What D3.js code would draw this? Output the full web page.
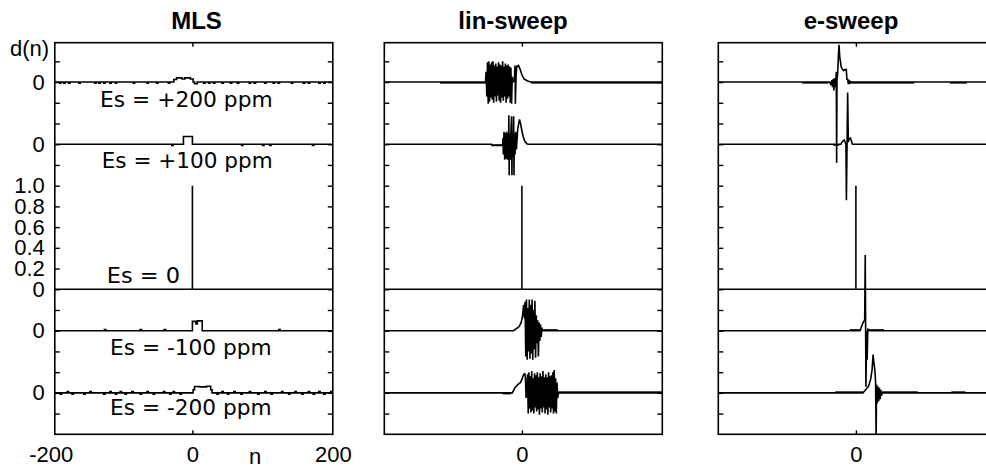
<!DOCTYPE html>
<html><head><meta charset="utf-8">
<script src="https://cdn.jsdelivr.net/npm/d3@7"></script>
<style>
html,body{margin:0;padding:0;background:#fff;}
svg{display:block;font-family:"Liberation Sans",Arial,Helvetica,sans-serif;}
</style></head><body>
<svg id="chart" width="986" height="468"></svg>
<script>
// ---------------- data ----------------
const panelTitles = ["MLS", "lin-sweep", "e-sweep"];
const traceLabels = ["Es = +200 ppm", "Es = +100 ppm", "Es = 0", "Es = -100 ppm", "Es = -200 ppm"];
const traceOffsets = [2.0, 1.4, 0, -0.4, -1.0];
const xTicksMLS = [-200, 0, 200];
const xTicksSweep = [0];
const yTickValues = [-1.2, -1.0, -0.8, -0.6, -0.4, -0.2, 0, 0.2, 0.4, 0.6, 0.8, 1.0, 1.2, 1.4, 1.6, 1.8, 2.0, 2.2];
const yLabelValues = [2.0, 1.4, 1.0, 0.8, 0.6, 0.4, 0.2, 0, -0.4, -1.0];
const yLabelTexts = ["0", "0", "1.0", "0.8", "0.6", "0.4", "0.2", "0", "0", "0"];
const yAxisLabel = "d(n)";
const xAxisLabel = "n";

// MLS traces  [n, d(n)]
const mls200 = [[-200,0],[-193,-0.012],[-191,0],[-187,-0.012],[-185,0],[-180,-0.012],[-178,0],[-165,-0.012],[-163,0],
  [-142,-0.012],[-140,0],[-136,-0.012],[-134,0],[-129,-0.012],[-127,0],[-120,-0.012],[-118,0],[-112,-0.012],[-110,0],
  [-86,-0.012],[-84,0],[-66,-0.012],[-64,0],[-52,-0.012],[-50,0],[-35,-0.012],[-33,0],
  [-27,0.025],[-23,0.04],[-15,0.03],[-11,0.04],[-3,0.03],[1,0],[3,-0.015],[7,0],
  [16,-0.012],[18,0],[23,-0.012],[25,0],[30,-0.012],[32,0],[42,-0.012],[44,0],[54,-0.012],[56,0],[64,-0.012],[66,0],
  [81,-0.012],[83,0],[88,-0.012],[90,0],[103,-0.012],[105,0],[115,-0.012],[117,0],[122,-0.012],[124,0],
  [141,-0.012],[143,0],[158,-0.012],[160,0],[165,-0.012],[167,0],[180,-0.012],[182,0],[187,-0.012],[189,0],[200,0]];
const mls100 = [[-200,0],[-30,-0.012],[-28,0],[-13,0.075],[0,0],[70,-0.012],[72,0],[100,-0.012],[102,0],
  [110,-0.012],[112,0],[171,-0.012],[173,0],[200,0]];
const mls0 = [[-200,0],[0,0],[0,1.0],[0,0],[200,0]];
const mlsM100 = [[-200,0],[-128,0.012],[-126,0],[-76,0.012],[-74,0],[-41,0.012],[-39,0],
  [0,0.09],[5,0.065],[7,0.095],[14,0],[123,0.012],[125,0],[200,0]];
const mlsM200 = [[-200,0],[-192,-0.012],[-190,0],[-182,0.012],[-180,0],[-175,-0.012],[-173,0],[-158,-0.012],[-156,0],
  [-149,0.012],[-147,0],[-129,-0.012],[-127,0],[-120,0.012],[-118,0],[-112,-0.012],[-110,0],[-105,0.012],[-103,0],
  [-98,-0.012],[-96,0],[-88,0.012],[-86,0],[-76,-0.012],[-74,0],[-66,0.012],[-64,0],[-57,-0.012],[-55,0],
  [-42,0.012],[-40,0],[-33,-0.012],[-31,0],[-28,0.012],[-26,0],[-18,-0.012],[-16,0],
  [1,0.03],[3,0.062],[10,0.058],[20,0.064],[26,0.03],[28,0],
  [35,-0.012],[37,0],[42,0.012],[44,0],[50,-0.012],[52,0],[59,0.012],[61,0],[69,-0.012],[71,0],[81,0.012],[83,0],
  [93,-0.012],[95,0],[103,0.012],[105,0],[112,-0.012],[114,0],[127,0.012],[129,0],[137,-0.012],[139,0],
  [146,0.012],[148,0],[156,-0.012],[158,0],[165,0.012],[167,0],[172,-0.012],[174,0],[180,0.012],[182,0],
  [187,-0.012],[189,0],[197,0.012],[199,0],[200,0]];

// lin-sweep traces
const lin200 = [[-200,0],[-53,0],
  [-52,0.1],[-51,-0.14],[-50,0.19],[-49,-0.21],[-48,0.2],[-47,-0.19],[-46,0.17],[-45,-0.15],[-44,0.19],[-43,-0.17],
  [-42,0.2],[-41,-0.2],[-40,0.16],[-39,-0.14],[-38,0.18],[-37,-0.19],[-36,0.15],[-35,-0.13],[-34,0.19],[-33,-0.18],
  [-32,0.17],[-31,-0.2],[-30,0.16],[-29,-0.15],[-28,0.2],[-27,-0.18],[-26,0.15],[-25,-0.14],[-24,0.18],[-23,-0.2],
  [-22,0.16],[-21,-0.16],[-20,0.17],[-19,-0.14],[-18,0.15],[-17,-0.2],[-16,0.14],[-15,-0.21],[-14,0.05],[-13,0],
  [-11,0.02],[-10,0.16],[-9.5,-0.21],[-8.5,0.05],[-7.5,0.15],[-5,0.16],[-3,0.13],[0,0.07],[3,0.03],[8,0.01],
  [13,0],[200,0]];
const lin100 = [[-200,0],[-44,0],[-43.5,-0.013],[-28,-0.013],
  [-27.5,0.06],[-27,-0.1],[-26,0.12],[-25,-0.15],[-24,0.11],[-23,-0.14],[-22,0.12],[-21,-0.15],[-20,0.1],
  [-19.5,-0.12],[-19,0.28],[-18.5,-0.3],[-18,0.1],[-17,-0.15],[-16,0.12],[-15,0.27],[-14.5,-0.3],[-14,0.08],
  [-13,-0.12],[-12,0.27],[-11.5,-0.3],[-11,0.1],[-10,-0.1],[-9,0.12],[-8,-0.05],
  [-6,0.15],[-3.5,0.24],[-2,0.2],[0,0.13],[2,0.07],[4,0.03],[7,0.005],[9,0],[200,0]];
const lin0 = [[-200,0],[0,0],[0,1.0],[0,0],[200,0]];
const linM100 = [[-200,0],[-12,0],[-8,0.02],[-4,0.04],[-1,0.08],[1,0.15],[2.5,0.25],[3.5,0.12],
  [4.5,0.28],[5.5,-0.25],[6.5,0.3],[7.5,-0.28],[8.5,0.22],[9.5,-0.2],[10.5,0.3],[11.5,-0.27],[12.5,0.25],
  [13.5,-0.22],[14.5,0.3],[15.5,-0.28],[16.5,0.2],[17.5,-0.18],[18.5,0.29],[19.5,-0.26],[20.5,0.15],[21.5,-0.12],
  [22.5,0.1],[23.5,-0.25],[24.5,0.08],[25.5,-0.1],[26.5,0.06],[27.5,-0.06],[28.5,0.03],[29,0],[200,0]];
const linM200 = [[-200,0],[-28,0],[-14,0],[-10,0.05],[-6,0.08],[-2,0.1],[0,0.13],[2,0.17],[4,0.19],[5,0.15],
  [6,-0.05],[7,0.02],
  [8,0.18],[9,-0.2],[10,0.2],[11,-0.15],[12,0.16],[13,-0.19],[14,0.21],[15,-0.17],[16,0.14],[17,-0.2],[18,0.19],
  [19,-0.14],[20,0.17],[21,-0.18],[22,0.2],[23,-0.16],[24,0.15],[25,-0.21],[26,0.19],[27,-0.15],[28,0.16],
  [29,-0.19],[30,0.21],[31,-0.14],[32,0.15],[33,-0.2],[34,0.18],[35,-0.16],[36,0.15],[37,-0.21],[38,0.2],
  [39,-0.14],[40,0.16],[41,-0.19],[42,0.17],[43,-0.15],[44,0.2],[45,-0.2],[46,0.22],[47,-0.18],[48,0.14],
  [49,-0.2],[50,0.1],[51,-0.05],[52,0],[200,0]];

// e-sweep traces
const e200 = [[-200,0],[-38,0],[-36,-0.03],[-35,0.02],[-34,-0.05],[-33,0.03],[-32,-0.08],[-31,0.04],[-30,-0.05],
  [-29,0.03],[-28.5,0.1],[-28,-0.78],[-27.5,0.02],[-26.5,0.08],[-25.5,0.25],[-24.5,0.36],[-23.5,0.24],[-22.5,0.2],
  [-21.5,0.15],[-20,0.13],[-18,0.11],[-16,0.12],[-14,0.12],[-13,0.02],[-12,0.03],[-11,-0.02],[-10,0.02],
  [-9,-0.02],[-8,0.01],[-7,-0.01],[-6,0],[200,0]];
const e100 = [[-200,0],[-33,0],[-22,0],[-19,0.03],[-17,0.04],[-15,0.01],[-14.5,0],[-13.8,-0.54],[-12,0.5],
  [-11,0.02],[-10,0.05],[-8,0.06],[-6.5,0.03],[-5,0],[200,0]];
const e0 = [[-200,0],[0,0],[0,1.0],[0,0],[200,0]];
const eM100 = [[-200,0],[6,0],[8.5,0.05],[11,0.09],[12.5,0.1],[13.3,0.73],[14.3,-0.54],[15.3,0],[16,-0.28],
  [17,0.02],[18,0],[200,0]];
const eM200 = [[-200,0],[10,0],[14,0.03],[18,0.065],[21,0.13],[23,0.22],[24.5,0.37],[25.5,0.3],[27,0.22],
  [28,0.11],[28.8,-0.42],[29.5,0.08],[30.5,-0.1],[31.5,0.06],[32.5,-0.08],[33.5,0.05],[34.5,-0.06],[35.5,0.03],
  [36.5,-0.03],[37.5,0.01],[38.5,0],[200,0]];

// low-level ripple bands: [panel, trace, nStart, nEnd, low, high]
const rippleBands = [
  [1,0,-119,-52,-0.015,0],[1,0,13,200,-0.015,0],
  [1,1,-43.5,-28,-0.015,0],
  [1,3,29,51,0,0.015],
  [1,4,-28,-16,-0.015,0],[1,4,51,200,0,0.015],
  [2,0,-78,-40,-0.015,0],[2,0,-6,83,-0.015,0],[2,0,134,158,-0.015,0],
  [2,1,-33,-24,-0.015,0],
  [2,3,-9,6,0,0.015],[2,3,18,40,0,0.015],
  [2,4,-30,10,0,0.015],[2,4,38,88,0,0.015],[2,4,136,156,0,0.015]
];

const panelTraces = [
  [mls200, mls100, mls0, mlsM100, mlsM200],
  [lin200, lin100, lin0, linM100, linM200],
  [e200, e100, e0, eM100, eM200]
];

// ---------------- layout ----------------
const W = 986, H = 468;
const panelLeft = [54.8, 384.3, 718.3];
const panelWidth = 278, zeroOffset = 137.6;
const plotTop = 42.7, plotBottom = 434.3;
const titleX = [196.5, 513, 851], titleY = 29;
const labelPos = [[100,107.3,172.7],[101.7,168.3,171],[106.7,283.3,73.3],[110,355,161.7],[110,415,161.7]];

const svg = d3.select("#chart");
svg.append("rect").attr("width", W).attr("height", H).attr("fill", "#fff");

const y = d3.scaleLinear().domain([-1.4, 2.38]).range([plotBottom, plotTop]);

panelTraces.forEach((traces, p) => {
  const L = panelLeft[p];
  const x = d3.scaleLinear().domain([-200, 0, 200]).range([L, L + zeroOffset, L + panelWidth]);
  const g = svg.append("g");

  const clipId = "clip" + p;
  svg.append("clipPath").attr("id", clipId).append("rect")
    .attr("x", L).attr("y", plotTop).attr("width", panelWidth).attr("height", plotBottom - plotTop);

  const plot = g.append("g").attr("clip-path", `url(#${clipId})`);

  rippleBands.filter(b => b[0] === p).forEach(b => {
    const off = traceOffsets[b[1]];
    plot.append("rect")
      .attr("x", x(b[2])).attr("width", x(b[3]) - x(b[2]))
      .attr("y", y(off + b[5])).attr("height", y(off + b[4]) - y(off + b[5]))
      .attr("fill", "#000");
  });

  traces.forEach((data, t) => {
    const off = traceOffsets[t];
    const line = d3.line()
      .x(d => x(d[0]))
      .y(d => y(off + d[1]))
      .curve(p === 0 ? d3.curveStepAfter : d3.curveLinear);
    plot.append("path").datum(data)
      .attr("d", line)
      .attr("fill", "none")
      .attr("stroke", "#000")
      .attr("stroke-width", 1.6)
      .attr("stroke-linejoin", "miter")
      .attr("stroke-miterlimit", 2);
  });

  g.append("rect").attr("x", L).attr("y", plotTop)
    .attr("width", panelWidth).attr("height", plotBottom - plotTop)
    .attr("fill", "none").attr("stroke", "#000").attr("stroke-width", 1.6);

  const styleTicks = sel => {
    sel.select(".domain").remove();
    sel.selectAll(".tick line").attr("stroke", "#000").attr("stroke-width", 1.4);
  };

  g.append("g").attr("transform", `translate(${L},0)`)
    .call(d3.axisLeft(y).tickValues(yTickValues).tickSize(-5).tickFormat(""))
    .call(styleTicks);
  g.append("g").attr("transform", `translate(${L + panelWidth},0)`)
    .call(d3.axisRight(y).tickValues(yTickValues).tickSize(-5).tickFormat(""))
    .call(styleTicks);
  g.append("g").attr("transform", `translate(0,${plotTop})`)
    .call(d3.axisTop(x).tickValues(xTicksSweep).tickSize(-4).tickFormat(""))
    .call(styleTicks);
  g.append("g").attr("transform", `translate(0,${plotBottom})`)
    .call(d3.axisBottom(x).tickValues(xTicksSweep).tickSize(-4).tickFormat(""))
    .call(styleTicks);

  const xl = g.append("g").attr("transform", `translate(0,${plotBottom})`)
    .call(d3.axisBottom(x).tickValues(p === 0 ? xTicksMLS : xTicksSweep).tickSize(0).tickPadding(11.6)
      .tickFormat(d => String(d)));
  xl.select(".domain").remove();
  xl.attr("font-family", null).attr("font-size", null);
  xl.selectAll("text").attr("font-size", 22).attr("fill", "#000")
    .attr("dx", d => d < 0 ? -4 : 0);

  if (p === 0) {
    const yl = g.append("g").attr("transform", `translate(${L},0)`)
      .call(d3.axisLeft(y).tickValues(yLabelValues).tickSize(0).tickPadding(10)
        .tickFormat((d, i) => yLabelTexts[i]));
    yl.select(".domain").remove();
    yl.attr("font-family", null).attr("font-size", null);
    yl.selectAll("text").attr("font-size", 22).attr("fill", "#000");

    g.append("text").attr("x", 10).attr("y", 56).attr("font-size", 22).text(yAxisLabel);
    g.append("text").attr("x", 255).attr("y", 464).attr("font-size", 22)
      .attr("text-anchor", "middle").text(xAxisLabel);

    traceLabels.forEach((s, i) => {
      g.append("text").attr("x", labelPos[i][0]).attr("y", labelPos[i][1])
        .attr("font-family", "'DejaVu Sans', Verdana, sans-serif")
        .attr("font-size", 21.5).attr("textLength", labelPos[i][2]).attr("lengthAdjust", "spacingAndGlyphs")
        .text(s);
    });
  }

  g.append("text").attr("x", titleX[p]).attr("y", titleY)
    .attr("text-anchor", "middle").attr("font-size", 24).attr("font-weight", "bold")
    .text(panelTitles[p]);
});
</script>
</body></html>
